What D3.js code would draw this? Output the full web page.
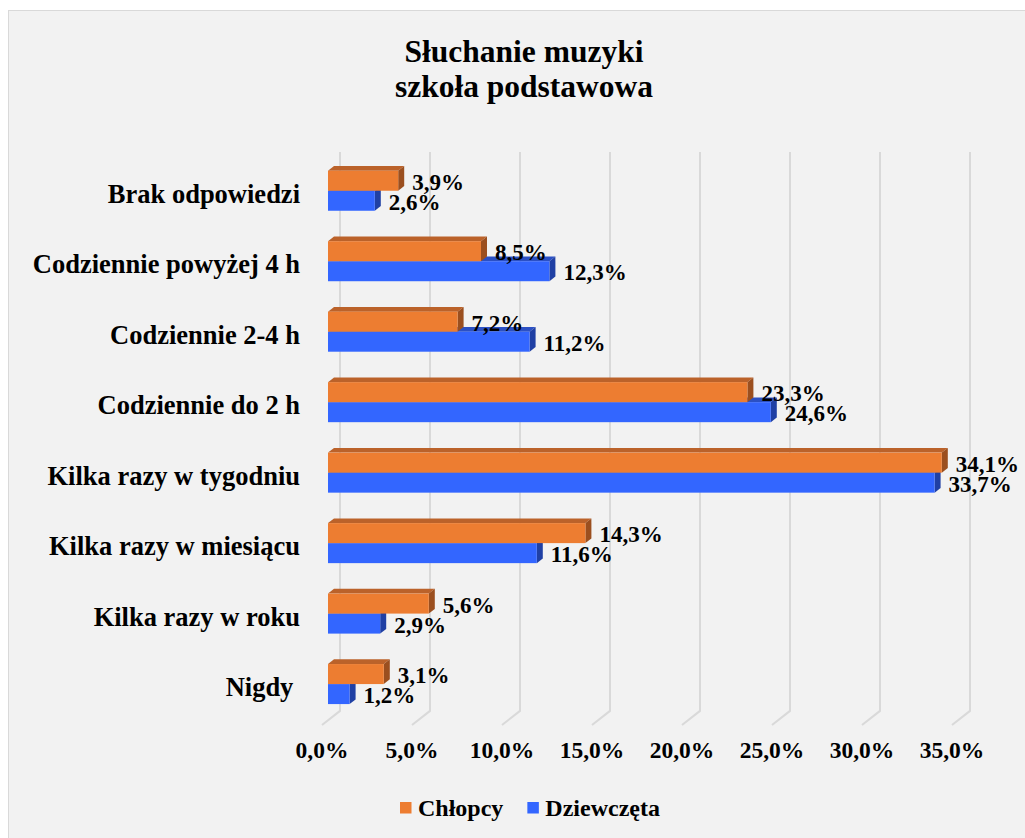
<!DOCTYPE html>
<html>
<head>
<meta charset="utf-8">
<script src="https://cdn.jsdelivr.net/npm/d3@7"></script>
<style>
  body { margin: 0; background: #ffffff; }
  svg text { font-family: "Liberation Serif", "Times New Roman", serif; font-weight: bold; fill: #000; }
</style>
</head>
<body>
<div id="chart"></div>
<script>
// data
var categories = ["Brak odpowiedzi", "Codziennie powyżej 4 h", "Codziennie 2-4 h", "Codziennie do 2 h",
                  "Kilka razy w tygodniu", "Kilka razy w miesiącu", "Kilka razy w roku", "Nigdy "];
var chlopcy    = [3.9, 8.5, 7.2, 23.3, 34.1, 14.3, 5.6, 3.1];
var dziewczeta = [2.6, 12.3, 11.2, 24.6, 33.7, 11.6, 2.9, 1.2];
var tickValues = [0, 5, 10, 15, 20, 25, 30, 35];
var seriesNames = ["Chłopcy", "Dziewczęta"];
var titleLines = ["Słuchanie muzyki", "szkoła podstawowa"];

var width = 1025, height = 838;

var svg = d3.select("#chart").append("svg")
  .attr("width", width)
  .attr("height", height);

// chart area
svg.append("rect")
  .attr("x", 8.5).attr("y", 10.5)
  .attr("width", 1040).attr("height", 850)
  .attr("fill", "#f2f2f2")
  .attr("stroke", "#d9d9d9");

// scales on the front plane of the bars
var x = d3.scaleLinear().domain([0, 35]).range([328, 958]);
var y = d3.scaleBand().domain(categories).range([155.5, 719.3]).paddingInner(0.432).paddingOuter(0.216);
var ySub = d3.scaleBand().domain(seriesNames).range([0, y.bandwidth()]);

// 3d depth (oblique projection)
var dx = 6, dy = 4.7;           // bar depth
var wallTop = 161.3, floorY = 720.3;

var loc = d3.formatLocale({decimal: ",", thousands: " ", grouping: [3], currency: ["", ""]});
var fmt = loc.format(".1f");

// gridlines: back wall + floor
var grid = svg.append("g").attr("fill", "none").attr("stroke", "#d9d9d9").attr("stroke-width", 2);
tickValues.forEach(function(v) {
  var xb = x(v) + 2 * dx, xf = x(v) - dx;
  grid.append("path")
    .attr("d", "M" + xb + "," + (wallTop - 2 * dy) + "L" + xb + "," + (floorY - 2 * dy) + "L" + xf + "," + (floorY + dy));
});

// tick labels
svg.append("g").selectAll("text")
  .data(tickValues)
  .enter().append("text")
    .attr("x", function(d) { return x(d) - dx; })
    .attr("y", 758)
    .attr("text-anchor", "middle")
    .style("font-size", "23.5px")
    .text(function(d) { return fmt(d) + "%"; });

// category labels
svg.append("g").selectAll("text")
  .data(categories)
  .enter().append("text")
    .attr("x", 300)
    .attr("y", function(d) { return y(d) + y.bandwidth() / 2 + 12; })
    .attr("text-anchor", "end")
    .style("font-size", "26.5px")
    .style("white-space", "pre")
    .text(function(d) { return d; });

var colors = {
  "Chłopcy":    {front: "#ed7d31", top: "#bb622a", side: "#9b4f1f"},
  "Dziewczęta": {front: "#3366ff", top: "#2b50c4", side: "#2040a4"}
};

// bars: blue first so the orange bar covers its top face
var bars = svg.append("g");
categories.forEach(function(c, i) {
  [["Dziewczęta", dziewczeta[i]], ["Chłopcy", chlopcy[i]]].forEach(function(s) {
    var name = s[0], v = s[1], col = colors[name];
    var x0 = x(0), x1 = x(v);
    var yt = y(c) + ySub(name), yb = yt + ySub.bandwidth();
    bars.append("path")
      .attr("fill", col.top)
      .attr("d", "M" + x0 + "," + yt + "L" + (x0 + dx) + "," + (yt - dy) + "L" + (x1 + dx) + "," + (yt - dy) + "L" + x1 + "," + yt + "Z");
    bars.append("path")
      .attr("fill", col.side)
      .attr("d", "M" + x1 + "," + yt + "L" + (x1 + dx) + "," + (yt - dy) + "L" + (x1 + dx) + "," + (yb - dy) + "L" + x1 + "," + yb + "Z");
    bars.append("rect")
      .attr("x", x0).attr("y", yt)
      .attr("width", x1 - x0).attr("height", yb - yt)
      .attr("fill", col.front);
  });
});

// data labels
var labels = svg.append("g");
categories.forEach(function(c, i) {
  [["Chłopcy", chlopcy[i]], ["Dziewczęta", dziewczeta[i]]].forEach(function(s) {
    labels.append("text")
      .attr("x", x(s[1]) + 14)
      .attr("y", y(c) + ySub(s[0]) + ySub.bandwidth() - 1)
      .style("font-size", "23px")
      .text(fmt(s[1]) + "%");
  });
});

// title
svg.append("g").selectAll("text")
  .data(titleLines)
  .enter().append("text")
    .attr("x", 524)
    .attr("y", function(d, i) { return 62 + i * 35; })
    .attr("text-anchor", "middle")
    .style("font-size", "31.5px")
    .text(function(d) { return d; });

// legend
var legend = svg.append("g");
var lx = 400;
seriesNames.forEach(function(name) {
  legend.append("rect")
    .attr("x", lx).attr("y", 802)
    .attr("width", 11.5).attr("height", 11.5)
    .attr("fill", colors[name].front);
  var t = legend.append("text")
    .attr("x", lx + 18).attr("y", 816)
    .style("font-size", "24px")
    .text(name);
  lx = lx + 18 + t.node().getComputedTextLength() + 24;
});
</script>
</body>
</html>
